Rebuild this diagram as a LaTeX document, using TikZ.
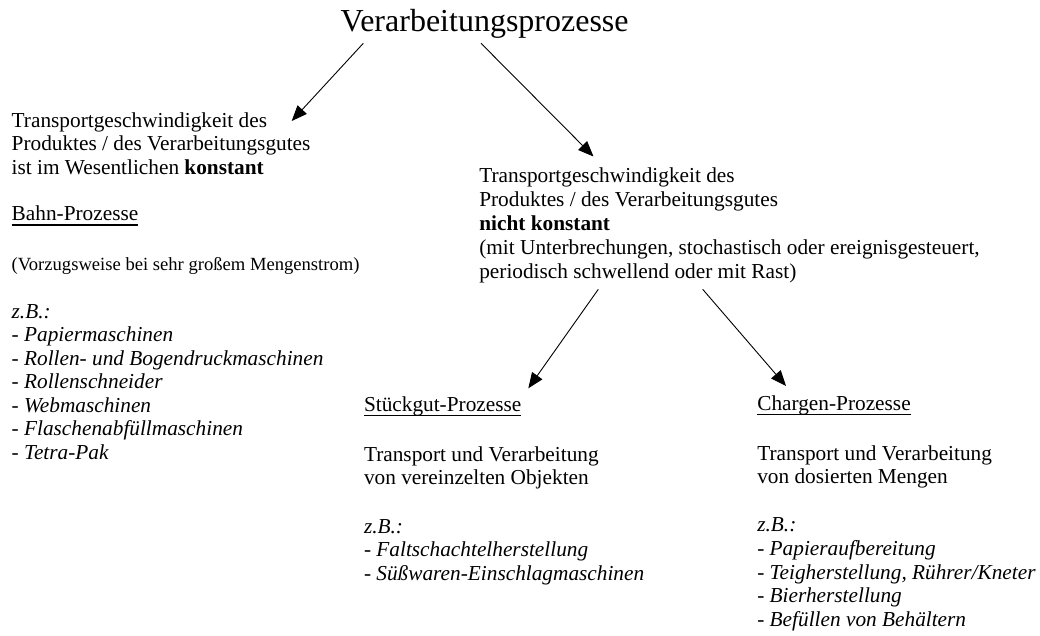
\documentclass[tikz,border=0pt]{standalone}
\usepackage{fontspec}
\setmainfont{Liberation Serif}
\usetikzlibrary{arrows.meta}
\tikzset{
  txt/.style={anchor=base west, inner sep=0pt, outer sep=0pt, font=\fontsize{21.3}{24}\selectfont},
  ex/.style={txt, font=\fontsize{21.3}{24}\selectfont\itshape},
  smalltxt/.style={txt, font=\fontsize{18.6}{22}\selectfont},
  ttl/.style={txt, font=\fontsize{32}{38}\selectfont},
  arr/.style={-{Triangle[length=15.5pt,width=12.5pt]}, line width=0.9pt},
  uline/.style={line width=1.2pt}
}
\begin{document}
\begin{tikzpicture}[x=1pt,y=-1pt]
\useasboundingbox (0,0) rectangle (1040,635);
% title
\node[ttl] (title) at (340.7,31.7) {Verarbeitungsprozesse};
% left block
\node[txt] (l1) at (11.7,127) {Transportgeschwindigkeit des};
\node[txt] (l2) at (11.7,150.5) {Produktes / des Verarbeitungsgutes};
\node[txt] (l3) at (11.7,174) {ist im Wesentlichen \textbf{konstant}};
\node[txt] (bahn) at (11.7,220.7) {Bahn-Prozesse};
\node[smalltxt] (l5) at (11.7,270) {(Vorzugsweise bei sehr großem Mengenstrom)};
\node[ex] (l6) at (11.7,318) {z.B.:};
\node[ex] (l7) at (11.7,341.7) {- Papiermaschinen};
\node[ex] (l8) at (11.7,365.2) {- Rollen- und Bogendruckmaschinen};
\node[ex] (l9) at (11.7,388.7) {- Rollenschneider};
\node[ex] (l10) at (11.7,412.2) {- Webmaschinen};
\node[ex] (l11) at (11.7,435.7) {- Flaschenabfüllmaschinen};
\node[ex] (l12) at (11.7,459.2) {- Tetra-Pak};
% middle block
\node[txt] (m1) at (479.3,182) {Transportgeschwindigkeit des};
\node[txt] (m2) at (479.3,206) {Produktes / des Verarbeitungsgutes};
\node[txt] (m3) at (479.3,230) {\textbf{nicht konstant}};
\node[txt] (m4) at (479.3,254) {(mit Unterbrechungen, stochastisch oder ereignisgesteuert,};
\node[txt] (m5) at (479.3,278) {periodisch schwellend oder mit Rast)};
% Stueckgut block
\node[txt] (stk) at (364,411) {Stückgut-Prozesse};
\node[txt] (s2) at (364,461) {Transport und Verarbeitung};
\node[txt] (s3) at (364,484.3) {von vereinzelten Objekten};
\node[ex] (s4) at (364,533.3) {z.B.:};
\node[ex] (s5) at (364,556.7) {- Faltschachtelherstellung};
\node[ex] (s6) at (364,580) {- Süßwaren-Einschlagmaschinen};
% Chargen block
\node[txt] (chg) at (757.3,410) {Chargen-Prozesse};
\node[txt] (c2) at (757.3,460) {Transport und Verarbeitung};
\node[txt] (c3) at (757.3,483.3) {von dosierten Mengen};
\node[ex] (c4) at (757.3,531.7) {z.B.:};
\node[ex] (c5) at (757.3,555) {- Papieraufbereitung};
\node[ex] (c6) at (757.3,579) {- Teigherstellung, Rührer/Kneter};
\node[ex] (c7) at (757.3,602.7) {- Bierherstellung};
\node[ex] (c8) at (757.3,626.7) {- Befüllen von Behältern};
% underlines
\draw[uline] ([yshift=-4.3pt]bahn.base west) -- ([yshift=-4.3pt]bahn.base east);
\draw[uline] ([yshift=-4.3pt]stk.base west) -- ([yshift=-4.3pt]stk.base east);
\draw[uline] ([yshift=-4.3pt]chg.base west) -- ([yshift=-4.3pt]chg.base east);
% arrow coordinates
\coordinate (a1s) at (363.3,43.3);
\coordinate (a1e) at (291.7,121);
\coordinate (a2s) at (481,43.3);
\coordinate (a2e) at (593.5,156.5);
\coordinate (a3s) at (598.3,289.3);
\coordinate (a3e) at (528.3,388.3);
\coordinate (a4s) at (702.7,289.3);
\coordinate (a4e) at (786,386);
\draw[arr] (a1s) -- (a1e);
\draw[arr] (a2s) -- (a2e);
\draw[arr] (a3s) -- (a3e);
\draw[arr] (a4s) -- (a4e);
\end{tikzpicture}
\end{document}
